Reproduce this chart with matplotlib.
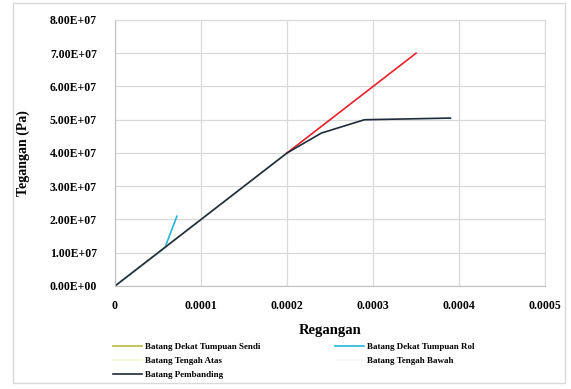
import matplotlib.pyplot as plt
from matplotlib.patches import Rectangle
from matplotlib.ticker import FuncFormatter

# data
sendi_x = [0, 0.0001, 0.0002]
sendi_y = [0, 2.0e7, 4.0e7]
rol_x = [0, 0.000058, 0.000072]
rol_y = [0, 1.15e7, 2.1e7]
atas_x = [0, 0.0001, 0.0002]
atas_y = [0, 2.0e7, 4.0e7]
bawah_x = [0, 0.0001, 0.0002]
bawah_y = [0, 2.0e7, 4.0e7]
elastis_x = [0.0002, 0.00035]
elastis_y = [4.0e7, 7.0e7]
pemb_x = [0, 0.0001, 0.0002, 0.00024, 0.00029, 0.00039]
pemb_y = [0, 2.0e7, 4.0e7, 4.6e7, 5.0e7, 5.05e7]

plt.rcParams['font.family'] = ['Liberation Serif', 'DejaVu Serif']
plt.rcParams['font.weight'] = 'bold'

fig = plt.figure(figsize=(5.71, 3.89), dpi=100)
ax = fig.add_axes([0.2014, 0.2648, 0.7531, 0.6838])

# bingkai luar
fig.patches.append(Rectangle((13 / 571, 6 / 389), 552 / 571, 380 / 389, transform=fig.transFigure,
                             fill=False, edgecolor='#d9d9d9', linewidth=1))

l_sendi, = ax.plot(sendi_x, sendi_y, color='#b8bb3c', lw=1.2, label='Batang Dekat Tumpuan Sendi')
l_rol, = ax.plot(rol_x, rol_y, color='#22b8d8', lw=1.2, label='Batang Dekat Tumpuan Rol')
l_atas, = ax.plot(atas_x, atas_y, color='#f6f3d2', lw=1.2, label='Batang Tengah Atas')
l_bawah, = ax.plot(bawah_x, bawah_y, color='#f7f7f7', lw=1.2, label='Batang Tengah Bawah')
ax.plot(elastis_x, elastis_y, color='#e8202a', lw=1.2, label='_nolegend_')
l_pemb, = ax.plot(pemb_x, pemb_y, color='#1f2b3a', lw=1.2, label='Batang Pembanding')

ax.set_xlim(0, 0.0005)
ax.set_ylim(0, 8e7)
ax.set_xticks([0, 0.0001, 0.0002, 0.0003, 0.0004, 0.0005])
ax.set_xticklabels(['0', '0.0001', '0.0002', '0.0003', '0.0004', '0.0005'])
ax.set_yticks([i * 1e7 for i in range(9)])
ax.yaxis.set_major_formatter(FuncFormatter(lambda v, p: '{:.2E}'.format(v)))
ax.tick_params(axis='y', labelsize=8.5, length=0, pad=13)
ax.tick_params(axis='x', labelsize=8.5, length=0, pad=10)
for t in ax.get_xticklabels() + ax.get_yticklabels():
    t.set_fontweight('bold')

ax.grid(True, color='#d9d9d9', linewidth=0.9)
ax.set_axisbelow(True)
for s in ax.spines.values():
    s.set_color('#d9d9d9')
ax.spines['left'].set_color('#bfbfbf')
ax.spines['bottom'].set_color('#bfbfbf')

ax.set_xlabel('Regangan', fontsize=10.5, fontweight='bold', labelpad=9)
ax.set_ylabel('Tegangan (Pa)', fontsize=10, fontweight='bold', labelpad=14)

handles = [l_sendi, l_atas, l_pemb, l_rol, l_bawah]
fig.legend(handles=handles, labels=[h.get_label() for h in handles], ncol=2,
           loc='upper left', bbox_to_anchor=(0.198, 0.118), frameon=False,
           fontsize=6.5, handlelength=3.2, handletextpad=0.3, columnspacing=8.3,
           labelspacing=0.6, borderaxespad=0, borderpad=0)

plt.savefig('out.png', dpi=100)
